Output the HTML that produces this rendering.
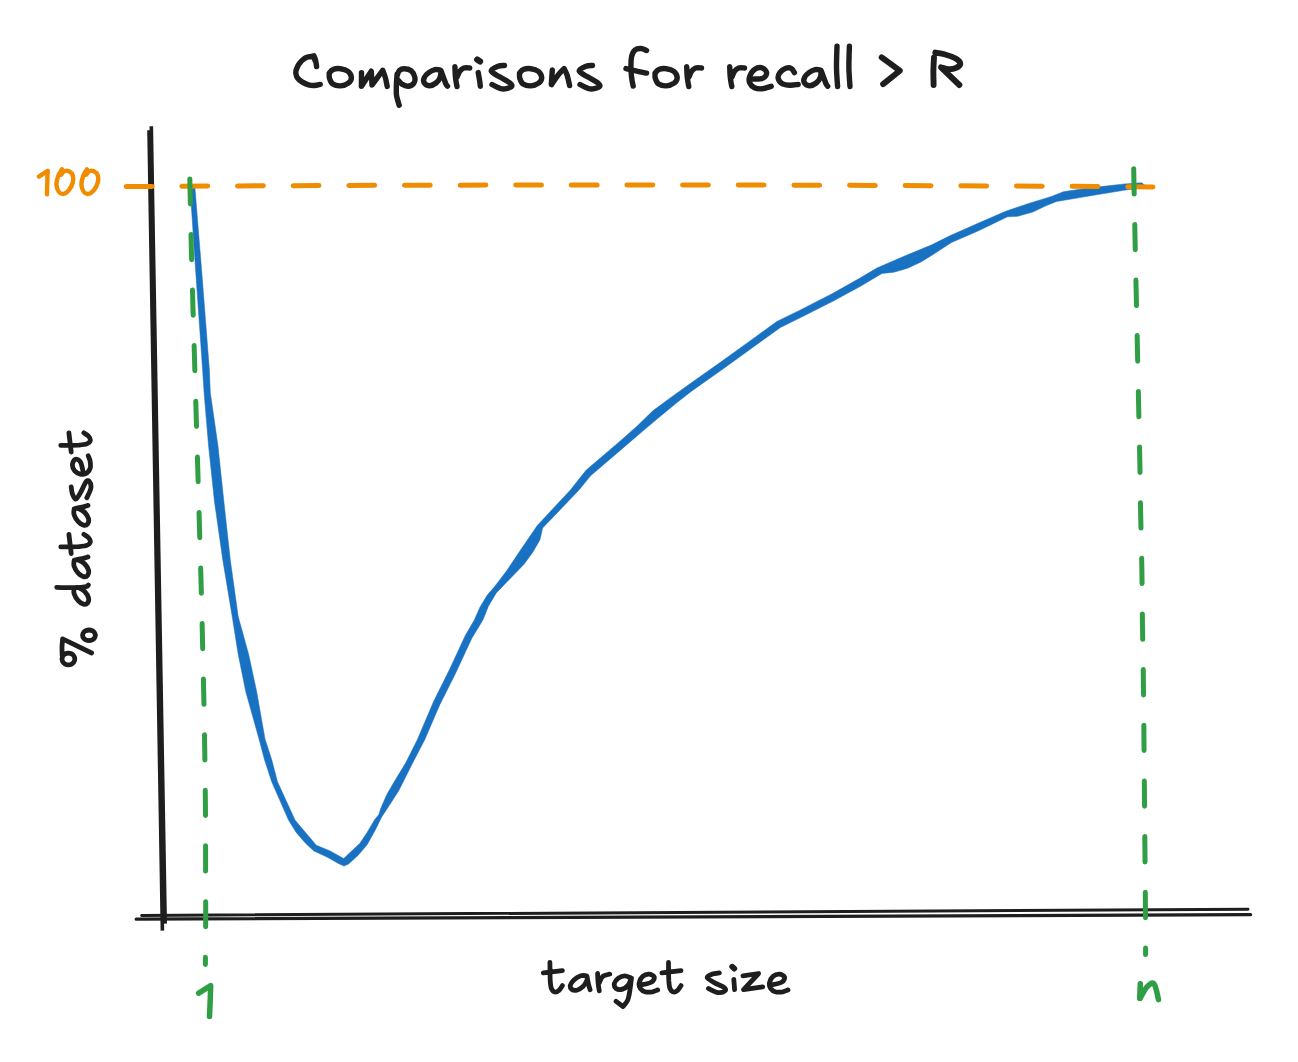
<!DOCTYPE html>
<html><head><meta charset="utf-8"><title>Comparisons for recall &gt; R</title>
<style>html,body{margin:0;padding:0;background:#fff;font-family:"Liberation Sans",sans-serif}svg{display:block}</style>
</head><body>
<svg width="1298" height="1062" viewBox="0 0 1298 1062">
<rect width="1298" height="1062" fill="#ffffff"/>
<path d="M149.0 130.3 Q156.9 520 162.4 930.6" fill="none" stroke="#1e1e1e" stroke-width="3.6" stroke-linejoin="round"/>
<path d="M151.3 126.3 Q159.6 520 165.2 923.6" fill="none" stroke="#1e1e1e" stroke-width="3.6" stroke-linejoin="round"/>
<path d="M141.6 915.4 Q700 912.0 1248 909.3" fill="none" stroke="#1e1e1e" stroke-width="3.0" stroke-linecap="round"/>
<path d="M136.2 919.2 Q700 918.6 1250.6 914.7" fill="none" stroke="#1e1e1e" stroke-width="3.3" stroke-linecap="round"/>
<path d="M190 186 L195.6 270 L202.6 370 L204.1 392.6 L208.5 445.3 L214.5 501.8 L222.8 560 L232.2 616.5 L238.2 654.2 L245.8 691.8 L259 738.9 L264.6 760 L271.6 781.6 L288.5 820.1 L296.2 832.4 L305.5 843.2 L313.9 851 L327 857.1 L339.4 864 L344 866 L348.6 864 L357.9 855.6 L367.1 844.8 L374.8 830.9 L381.7 817 L391.8 801.6 L398.7 790.8 L405.6 777 L412.6 763.1 L424.6 740 L439.8 704.7 L455.8 672.8 L471.7 638.5 L482.9 620 L488.4 606.3 L496.3 592.9 L511.2 577.5 L524 564.3 L532.8 552.2 L540 539.8 L542.6 528 L553.3 516.9 L568 501.6 L579 490 L590.6 475.7 L623.7 447.4 L642.5 431.3 L658.9 417.4 L676.4 403.1 L691.5 391.2 L724 368.2 L756.8 344.5 L780.4 327.5 L801.6 317.1 L834.3 300.5 L860 286.6 L882 273.4 L893.9 272.2 L907.5 268.3 L921 262 L934.6 253.6 L951.5 242.5 L978.6 230.7 L1007.5 216.8 L1017.6 216.3 L1032.9 212 L1046.4 205.6 L1056.6 201.5 L1080 197.6 L1102.5 193.8 L1125.4 190.1 L1142.2 187.8 L1145 185.5 L1141.8 182.8 L1124.6 183.9 L1101.5 186.6 L1080 189.2 L1063.4 191.7 L1051.5 196.4 L1029.5 203.2 L1005.8 211.2 L978.6 223.1 L949.8 235.8 L931.2 245.1 L902.4 256.9 L876.9 268 L860 278.1 L831.1 294.3 L798.4 310.9 L776.8 321.5 L752.8 338.9 L720 362.6 L687.5 385.6 L671.6 396.9 L653.1 410.6 L637.5 425.7 L619.1 442 L586 470.3 L570.4 490 L560.6 500.4 L545.9 516.3 L537.3 525.5 L521.4 548.8 L506.7 570.8 L494.5 586.7 L487.1 595.3 L479.8 607.5 L474.3 620 L465.3 635.5 L449.4 669.8 L433.6 701.5 L417.2 740 L405.6 763.1 L394.8 780.8 L387.1 793.9 L381 807.8 L378.7 814.7 L374.8 819.4 L367.1 832.4 L359.7 843.5 L351.7 850.9 L343.7 858.6 L330.1 850.9 L316.3 845.2 L295 820.1 L277.4 781.6 L271.8 760 L265 738.9 L256.7 691.8 L248.6 654.2 L238.2 616.5 L230.3 560 L223.9 501.8 L217.9 445.3 L210.3 392.6 L209.4 370 L201.6 270 L194.8 186 Z" fill="#1971c2" stroke="#1971c2" stroke-width="0.5" stroke-linejoin="round"/>
<path d="M126.2 186.6 Q640 183.2 1153 186.9" fill="none" stroke="#f08c00" stroke-width="5" stroke-linecap="round" stroke-dasharray="25.8 29.84"/>
<path d="M189.8 178.9C190.1 190.2 190.8 226.5 191.3 247C191.8 267.5 192.3 283.5 192.8 302C193.3 320.5 193.7 330 194.5 358C195.3 386 196.7 433 197.8 470C198.9 507 200.2 552.3 201 580C201.8 607.7 202 617.3 202.4 636C202.8 654.7 203.3 673.3 203.7 692C204.1 710.7 204.4 729.5 204.7 748C205 766.5 205.2 784.5 205.4 803C205.6 821.5 205.6 840.3 205.6 859C205.6 877.7 205.7 897.4 205.7 915C205.7 932.6 205.4 956.2 205.4 964.4" fill="none" stroke="#2f9e44" stroke-width="5" stroke-linecap="round" stroke-dasharray="25.2 30.4"/>
<path d="M1133.7 168.8C1133.9 180.2 1134.5 211.8 1135 237C1135.5 262.2 1136.2 292.2 1136.8 320C1137.4 347.8 1138.1 380.7 1138.6 404C1139.1 427.3 1139.4 441.3 1139.8 460C1140.2 478.7 1140.3 497.5 1140.7 516C1141.1 534.5 1141.6 552.5 1141.9 571C1142.2 589.5 1142.2 608.3 1142.5 627C1142.8 645.7 1143.1 655.8 1143.4 683C1143.7 710.2 1144.1 753 1144.4 790C1144.7 827 1145.2 877.6 1145.4 905C1145.6 932.4 1145.6 946.2 1145.6 954.5" fill="none" stroke="#2f9e44" stroke-width="5" stroke-linecap="round" stroke-dasharray="25.4 30.25"/>
<path d="M316.6 66.6C316.4 65.6 316.1 62.3 315.6 60.5C315.2 58.7 314.2 56.6 313.9 55.8C313.4 55.9 312.1 56.3 311.2 56.5C310.3 56.7 309.4 56.7 308.5 56.9C307.6 57.1 306.7 57.3 305.8 57.8C304.9 58.2 304 58.9 303.1 59.6C302.2 60.4 301.2 61.3 300.4 62.3C299.6 63.2 298.9 63.9 298.2 65.3C297.5 66.7 296.5 69.1 296.1 70.4C295.7 71.8 295.7 72.2 295.9 73.4C296.1 74.6 296.2 76.2 297.2 77.6C298.2 79 300.1 80.7 302 81.9C303.9 83.1 306.4 84.3 308.5 84.9C310.6 85.5 312.6 85.6 314.5 85.5C316.4 85.4 319.2 84.6 320.2 84.4M313.6 56.3L315.2 61M329.3 73.2C329.9 72.6 331.1 70.3 333 69.6C334.9 68.8 338 68.4 340.5 68.7C343 69 346.1 69.8 347.9 71.3C349.7 72.8 351.3 75.4 351.4 77.4C351.5 79.4 350.1 81.8 348.3 83.2C346.5 84.6 342.9 85.8 340.3 85.9C337.7 86 334.6 85.2 332.8 84C331 82.8 330.1 80.2 329.5 78.4C328.9 76.6 329.3 74.1 329.3 73.2M361.5 72.8L361.4 86.2M361.8 85.8L371.3 71.2L372 85M372.3 84.6L382.7 70.3C383.2 71.6 384.8 75.4 385.5 78.1C386.2 80.8 386.9 85 387.2 86.4M397.1 73.9C397 75.6 396.5 80.7 396.4 84.1C396.3 87.5 396.2 91.5 396.4 94.2C396.6 96.9 397.2 98.4 397.7 100.2C398.2 102 398.9 104.5 399.2 105.3M397.1 75.6C397.5 74.8 398.2 71.6 399.4 70.5C400.6 69.4 402.5 68.7 404.5 68.8C406.5 68.9 409.6 69.5 411.3 70.9C413 72.3 414.4 75.2 414.8 77.3C415.2 79.3 415 81.7 413.8 83.2C412.6 84.7 409.9 86.1 407.9 86.2C405.9 86.3 403.4 85 401.9 84.1C400.3 83.2 399.2 81.3 398.6 80.7M440.5 70.1C439.6 70 436.9 69.2 435 69.6C433.1 70 430.9 71.1 429.1 72.4C427.3 73.7 425.2 75.6 424.4 77.3C423.6 79 423.3 81.2 424.1 82.6C424.9 84 427.3 85.6 429.3 85.7C431.3 85.8 434.2 84.4 436 83C437.8 81.6 439.3 79.4 440.1 77.4C440.9 75.4 440.9 71.9 441 70.8C441.5 72.1 443.1 76.4 443.9 78.6C444.7 80.8 445.4 82.9 446 84.2C446.6 85.5 447.2 85.9 447.5 86.2M454.9 66.7C455 68.2 455.1 73 455.3 75.6C455.5 78.2 455.9 80.6 456.2 82.4C456.5 84.2 456.9 85.9 457 86.6M457 77.3C457.4 76.3 458.5 73 459.6 71.4C460.7 69.9 462.1 68.6 463.8 68C465.5 67.4 468.7 68 469.7 68M478.2 72.6C478.4 73.8 479.1 77.5 479.5 79.8C479.9 82.1 480.2 85.1 480.3 86.2M504.5 65.5C503.4 65.6 500.2 65.3 498 66.2C495.8 67.1 490.9 69.2 491.2 71C491.5 72.8 496.9 75.1 500 77.1C503.1 79.1 508.1 81.5 510 83.1C511.9 84.7 512.5 85.8 511.2 86.8C509.9 87.8 505.2 89.3 502 88.9C498.8 88.5 493.7 85.3 492 84.6M519.6 73.2C520.2 72.6 521.4 70.3 523.3 69.6C525.2 68.8 528.3 68.4 530.8 68.7C533.3 69 536.4 69.8 538.2 71.3C540 72.8 541.6 75.4 541.7 77.4C541.8 79.4 540.4 81.8 538.6 83.2C536.7 84.6 533.2 85.8 530.6 85.9C528 86 524.9 85.2 523.1 84C521.3 82.8 520.4 80.2 519.8 78.4C519.2 76.6 519.6 74.1 519.6 73.2M552.3 70L551.3 84.6M551.6 84.6C552.7 83 556 77.8 558.1 75.1C560.2 72.4 563.1 69.6 564.1 68.5C564.6 69.6 566.2 72.2 567.1 75.1C568 77.9 569.2 83.8 569.6 85.6M592.5 65.5C591.4 65.6 588.2 65.3 586 66.2C583.8 67.1 578.9 69.2 579.2 71C579.5 72.8 584.9 75.1 588 77.1C591.1 79.1 596.1 81.5 598 83.1C599.9 84.7 600.5 85.8 599.2 86.8C597.9 87.8 593.2 89.3 590 88.9C586.8 88.5 581.7 85.3 580 84.6M646.6 50.5C645.7 50.2 642.9 48.6 641 48.5C639.1 48.4 636.6 48.6 635 50C633.4 51.4 632.2 53.6 631.5 57C630.8 60.4 630.9 66.2 631 70.1C631.1 73.9 631.6 77.4 632 80.1C632.4 82.8 633 85.1 633.2 86.1M626 68.6C627.8 69 633.6 70.3 637 71.1C640.4 71.8 645 72.8 646.6 73.1M655.1 73.2C655.7 72.6 656.9 70.3 658.8 69.6C660.7 68.8 663.8 68.4 666.3 68.7C668.8 69 671.9 69.8 673.7 71.3C675.5 72.8 677.1 75.4 677.2 77.4C677.3 79.4 675.9 81.8 674.1 83.2C672.2 84.6 668.7 85.8 666.1 85.9C663.5 86 660.4 85.2 658.6 84C656.8 82.8 655.9 80.2 655.3 78.4C654.7 76.6 655.1 74.1 655.1 73.2M686.7 66.7C686.8 68.2 686.9 73 687.1 75.6C687.3 78.2 687.7 80.6 688 82.4C688.3 84.2 688.7 85.9 688.8 86.6M688.8 77.3C689.2 76.3 690.3 73 691.4 71.4C692.5 69.9 693.9 68.6 695.6 68C697.3 67.4 700.5 68 701.5 68M729.7 66.7C729.8 68.2 729.9 73 730.1 75.6C730.3 78.2 730.7 80.6 731 82.4C731.3 84.2 731.7 85.9 731.8 86.6M731.8 77.3C732.2 76.3 733.3 73 734.4 71.4C735.5 69.9 736.9 68.6 738.6 68C740.3 67.4 743.5 68 744.5 68M752.4 79.1C754.2 78.9 760.7 79.2 763.1 78.1C765.5 77 766.8 74.3 766.6 72.6C766.4 70.9 764.1 68.3 762.1 67.8C760.1 67.3 756.6 68 754.5 69.4C752.4 70.8 750.5 74.2 749.7 76.4C748.9 78.7 748.9 81 749.7 82.9C750.5 84.8 752.4 86.7 754.5 87.7C756.6 88.7 759.3 89 762.1 88.8C764.9 88.6 769.7 86.7 771.2 86.3M794.4 72.6C793.9 71.9 792.6 69 791.2 68.3C789.8 67.6 787.7 67.6 785.8 68.3C783.9 69 781.2 70.9 779.9 72.6C778.6 74.3 777.8 76.6 778.2 78.5C778.7 80.4 780.6 82.8 782.6 83.9C784.6 85 787.5 85.1 790.1 85.2C792.7 85.3 796.9 84.6 798.2 84.5M820.7 70.1C819.8 70 817.1 69.2 815.2 69.6C813.3 70 811.1 71.1 809.3 72.4C807.5 73.7 805.4 75.6 804.6 77.3C803.8 79 803.5 81.2 804.3 82.6C805.1 84 807.5 85.6 809.5 85.7C811.5 85.8 814.4 84.4 816.2 83C818 81.6 819.5 79.4 820.3 77.4C821.1 75.4 821.1 71.9 821.2 70.8C821.7 72.1 823.3 76.4 824.1 78.6C824.9 80.8 825.6 82.9 826.2 84.2C826.8 85.5 827.5 85.9 827.7 86.2M837 46.2C836.9 49.8 836.4 61.1 836.5 67.8C836.6 74.5 837.4 83.5 837.6 86.6M849.4 46.2C849.3 49.8 848.8 61.1 848.9 67.8C849 74.5 849.8 83.5 850 86.6" fill="none" stroke="#1e1e1e" stroke-width="5.4" stroke-linecap="round" stroke-linejoin="round"/>
<path d="M881.7 57.3L899.8 70.7L883.1 84.1M934 57.5C933.9 59.6 933.5 65.4 933.4 70C933.3 74.6 933.6 82.5 933.6 85M935.3 52.6C936.9 52.9 941.6 53.5 945.1 54.5C948.6 55.5 953.6 57.2 956.1 58.7C958.6 60.2 960.3 62.2 960.3 63.7C960.3 65.2 958 67 956.1 67.9C954.2 68.8 951.2 69.4 948.7 69.3C946.2 69.2 942.3 67.6 941 67.3L959.4 85" fill="none" stroke="#1e1e1e" stroke-width="5.9" stroke-linecap="round" stroke-linejoin="round"/>
<path d="M477.3 59.6L480 61.4" fill="none" stroke="#1e1e1e" stroke-width="6.3" stroke-linecap="round" stroke-linejoin="round"/>
<path d="M549.9 962.5C550 965.5 550 976.1 550.2 980.4C550.5 984.7 550.6 986.6 551.4 988.5C552.2 990.4 553.5 991.7 554.8 992C556.1 992.3 557.7 991.4 559 990.3C560.3 989.2 561.8 986.4 562.4 985.6M543.3 972.9L562.4 970.6M586.6 975.8C585.6 975.8 582.9 975.1 580.8 975.8C578.7 976.5 575.6 978.3 573.9 979.9C572.2 981.5 570.8 983.5 570.4 985.1C570 986.7 570.5 988.4 571.6 989.3C572.7 990.1 574.9 990.7 576.8 990.2C578.7 989.7 581.3 988.1 583 986.5C584.7 984.9 586.1 982.3 586.8 980.6C587.5 978.9 587 977.1 587 976.4C587.2 977.6 587.9 981.7 588.4 983.9C588.9 986.1 589.8 988.7 590.1 989.7M597.6 973.5C597.7 975.2 597.9 981 598.2 983.9C598.5 986.8 599.1 989.6 599.3 990.8M599.3 982.8C599.9 981.7 601.1 977.8 602.8 976.4C604.5 975 608.6 974.5 609.7 974.1M631.1 978.1C630 977.7 626.9 975.8 624.8 975.8C622.7 975.8 620.1 976.9 618.4 978.1C616.7 979.4 614.8 981.6 614.4 983.3C614 985 614.8 987.5 616.1 988.5C617.5 989.5 620.5 989.7 622.5 989.1C624.5 988.5 626.8 986.8 628.2 985.1C629.6 983.4 630.6 979.8 631.1 978.7M631.5 978.1C631.2 980 630.6 986 630 989.7C629.4 993.4 628.9 997.3 627.7 1000.1C626.5 1002.9 623.8 1005.4 623 1006.5L616.1 1001.3M639.8 985.2C641.7 984.7 648.9 983.7 651.3 982.3C653.7 980.9 654.6 978.4 654.2 977C653.8 975.6 650.9 974.2 649 974.1C647.1 974 644.3 975 642.7 976.4C641.1 977.8 639.6 980.8 639.2 982.8C638.8 984.8 639.3 987 640.4 988.5C641.5 990 643.6 991.5 645.6 992C647.6 992.5 650.5 992.1 652.5 991.8C654.5 991.4 656.8 990.2 657.7 989.9M668.5 962.5C668.5 965.5 668.6 976.1 668.8 980.4C669.1 984.7 669.2 986.6 670 988.5C670.8 990.4 672.1 991.7 673.4 992C674.7 992.3 676.3 991.4 677.6 990.3C678.9 989.2 680.4 986.4 681 985.6M661.9 972.9L681 970.6M719.3 972.9C718.1 973.1 714.4 973.3 712.4 974.1C710.4 974.9 706.8 976.2 707.2 977.6C707.6 979 711.9 981.2 714.7 982.8C717.5 984.4 722.3 986.1 724 987.4C725.7 988.7 726.1 989.9 725.1 990.8C724.1 991.7 721 993 718.2 992.6C715.4 992.2 710 989.2 708.4 988.5M733.8 979.3L734.6 989.7M743 975.8L758.6 973.5L743.6 989.7L762.7 986.8M770.1 985.2C772 984.7 779.2 983.7 781.6 982.3C784 980.9 784.9 978.4 784.5 977C784.1 975.6 781.2 974.2 779.3 974.1C777.4 974 774.6 975 773 976.4C771.4 977.8 769.9 980.8 769.5 982.8C769.1 984.8 769.6 987 770.7 988.5C771.8 990 773.9 991.5 775.9 992C777.9 992.5 780.8 992.1 782.8 991.8C784.8 991.4 787.1 990.2 788 989.9" fill="none" stroke="#1e1e1e" stroke-width="4.8" stroke-linecap="round" stroke-linejoin="round"/>
<path d="M732.2 966.7L734.3 968.6" fill="none" stroke="#1e1e1e" stroke-width="5.8" stroke-linecap="round" stroke-linejoin="round"/>
<path d="M60.8 445.4C63.8 445.3 74.4 445.3 78.7 445.1C83 444.8 84.9 444.7 86.8 443.9C88.7 443.1 90 441.8 90.3 440.5C90.6 439.2 89.7 437.6 88.6 436.3C87.5 435 84.7 433.5 83.9 432.9M71.2 452L68.9 432.9M83.5 473.7C83 471.8 82 464.6 80.6 462.2C79.2 459.8 76.7 458.9 75.3 459.3C73.9 459.7 72.5 462.6 72.4 464.5C72.3 466.4 73.2 469.2 74.7 470.8C76.1 472.4 79.1 473.9 81.1 474.3C83.1 474.7 85.3 474.2 86.8 473.1C88.3 472 89.8 469.9 90.3 467.9C90.8 465.9 90.4 463 90.1 461C89.7 459 88.5 456.7 88.2 455.8M71.2 486.9C71.4 488.1 71.6 491.8 72.4 493.8C73.2 495.8 74.5 499.4 75.9 499C77.4 498.6 79.5 494.3 81.1 491.5C82.7 488.7 84.4 483.9 85.7 482.2C87 480.5 88.2 480.1 89.1 481.1C90 482.1 91.3 485.2 90.9 488C90.5 490.8 87.5 496.2 86.8 497.8M74.1 508.9C74.1 509.9 73.4 512.6 74.1 514.7C74.8 516.8 76.6 519.9 78.2 521.6C79.7 523.3 81.8 524.7 83.4 525.1C85 525.5 86.7 525 87.6 523.9C88.4 522.8 89 520.6 88.5 518.7C88 516.8 86.4 514.2 84.8 512.5C83.2 510.8 80.6 509.4 78.9 508.7C77.2 508 75.4 508.5 74.7 508.5C75.9 508.3 80 507.6 82.2 507.1C84.4 506.6 87 505.7 88 505.4M60.8 546.9C63.8 546.8 74.4 546.8 78.7 546.6C83 546.3 84.9 546.2 86.8 545.4C88.7 544.6 90 543.3 90.3 542C90.6 540.7 89.7 539.1 88.6 537.8C87.5 536.5 84.7 535 83.9 534.4M71.2 553.5L68.9 534.4M74.1 560.4C74.1 561.4 73.4 564.1 74.1 566.2C74.8 568.3 76.6 571.4 78.2 573.1C79.7 574.8 81.8 576.2 83.4 576.6C85 577 86.7 576.5 87.6 575.4C88.4 574.3 89 572.1 88.5 570.2C88 568.3 86.4 565.7 84.8 564C83.2 562.3 80.6 560.9 78.9 560.2C77.2 559.5 75.4 560 74.7 560C75.9 559.8 80 559.1 82.2 558.6C84.4 558.1 87 557.2 88 556.9M74.1 588C74.1 589 73.4 591.7 74.1 593.8C74.8 595.9 76.6 599 78.2 600.7C79.7 602.4 81.8 603.8 83.4 604.2C85 604.6 86.7 604.1 87.6 603C88.4 601.9 89 599.7 88.5 597.8C88 595.9 86.4 593.3 84.8 591.6C83.2 589.9 80.6 588.5 78.9 587.8C77.2 587.1 75.4 587.6 74.7 587.6M56.7 587.3C59.8 587.4 70.4 587.7 75.3 587.6C80.2 587.5 84.1 587 86.3 586.6C88.5 586.2 88 585.3 88.3 585M62 659C62.1 658.5 62.3 656.9 62.9 656C63.4 655.2 64.3 654.4 65.2 653.9C66.1 653.4 67.3 653.1 68.4 653.1C69.5 653.1 70.7 653.4 71.6 653.9C72.5 654.4 73.4 655.2 73.9 656C74.5 656.9 74.8 658 74.8 659C74.8 660 74.5 661.1 73.9 662C73.4 662.8 72.5 663.6 71.6 664.1C70.7 664.6 69.5 664.9 68.4 664.9C67.3 664.9 66.1 664.6 65.2 664.1C64.3 663.6 63.4 662.8 62.9 662C62.3 661.1 62.1 659.5 62 659M62.2 656C62.2 654.5 61.9 649.9 62 647C62.1 644.1 62.5 640.2 62.6 638.9L91.6 653M95.4 635.3C95.3 635.7 95.1 637.2 94.5 637.9C94 638.7 93.1 639.4 92.2 639.9C91.3 640.3 90.1 640.6 89 640.6C87.9 640.6 86.7 640.3 85.8 639.9C84.9 639.4 84 638.7 83.5 637.9C82.9 637.2 82.6 636.2 82.6 635.3C82.6 634.4 82.9 633.4 83.5 632.6C84 631.9 84.9 631.2 85.8 630.7C86.7 630.3 87.9 630 89 630C90.1 630 91.3 630.3 92.2 630.7C93.1 631.2 94 631.9 94.5 632.6C95.1 633.4 95.3 634.9 95.4 635.3" fill="none" stroke="#1e1e1e" stroke-width="4.8" stroke-linecap="round" stroke-linejoin="round"/>
<path d="M38.9 176.6L47.7 170.8C47.6 172.7 47.4 178.1 47.3 182C47.2 185.9 47 192.2 47 194.3M62 169.3C61.4 170.5 59 173.6 58.1 176.2C57.2 178.8 56.3 182.1 56.4 184.7C56.5 187.3 57.7 190.5 58.9 192C60.1 193.5 61.8 194.2 63.5 193.9C65.2 193.6 67.4 192 68.9 190.1C70.5 188.2 72.2 184.8 72.8 182.4C73.4 180 73.4 177.3 72.8 175.4C72.2 173.5 70.3 171.9 68.9 171.2C67.5 170.5 65.6 170.6 64.3 171.2C63 171.8 61.7 174.1 61.2 174.7M87 169.3C86.3 170.5 84 173.6 83.1 176.2C82.2 178.8 81.3 182.1 81.4 184.7C81.5 187.3 82.7 190.5 83.9 192C85.1 193.5 86.8 194.2 88.5 193.9C90.2 193.6 92.4 192 93.9 190.1C95.5 188.2 97.2 184.8 97.8 182.4C98.4 180 98.4 177.3 97.8 175.4C97.2 173.5 95.3 171.9 93.9 171.2C92.5 170.5 90.6 170.6 89.3 171.2C88 171.8 86.7 174.1 86.2 174.7" fill="none" stroke="#f08c00" stroke-width="4.4" stroke-linecap="round" stroke-linejoin="round"/>
<path d="M198.7 993.2L210.7 985.7C210.6 988.1 210.4 994.9 210.2 1000C210 1005.1 209.6 1013.6 209.5 1016.3M1140.3 983.7L1139.7 998.3M1140.1 998.3C1141 996.7 1143.9 991 1145.6 988.6C1147.3 986.2 1148.9 984.9 1150.2 984C1151.5 983.1 1152.6 982.8 1153.4 983.2C1154.2 983.6 1154.6 984.7 1155.2 986.2C1155.8 987.8 1156.4 990.2 1156.9 992.5C1157.5 994.8 1158.2 998.5 1158.5 999.7" fill="none" stroke="#2f9e44" stroke-width="5.5" stroke-linecap="round" stroke-linejoin="round"/>
</svg>
</body></html>
